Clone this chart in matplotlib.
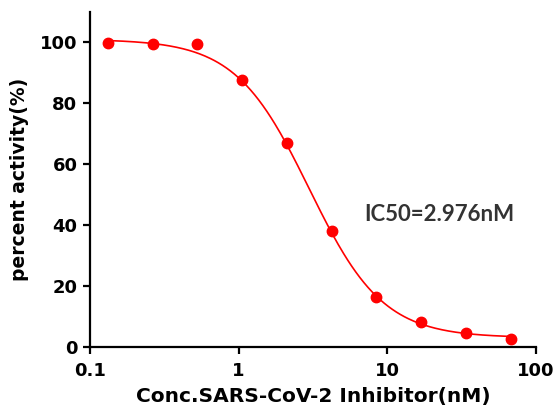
import numpy as np
import matplotlib
matplotlib.use('Agg')
import matplotlib.pyplot as plt
from matplotlib.ticker import FixedLocator, NullLocator

# measured points
conc_nM = [0.132, 0.264, 0.527, 1.05, 2.11, 4.22, 8.44, 16.9, 33.8, 67.5]
activity = [99.9, 99.6, 99.4, 87.5, 66.8, 37.9, 16.5, 8.3, 4.5, 2.5]

# fitted 4PL parameters
top = 101.0
bottom = 3.0
ic50 = 2.976
hill = 1.75

plt.rcParams['font.family'] = ['DejaVu Sans']
plt.rcParams['font.weight'] = 'bold'

fig = plt.figure(figsize=(5.55, 4.09), dpi=100)
ax = fig.add_axes([0.162, 0.152, 0.804, 0.819])

xs = np.logspace(np.log10(conc_nM[0]), np.log10(conc_nM[-1]), 300)
fit = bottom + (top - bottom) / (1 + (xs / ic50) ** hill)
ax.plot(xs, fit, color='#ff0000', lw=1.2)
ax.plot(conc_nM, activity, 'o', color='#ff0000', ms=7.5, mec='#ff0000')

ax.set_xscale('log')
ax.set_xlim(0.1, 100)
ax.set_ylim(0, 110)
ax.xaxis.set_major_locator(FixedLocator([0.1, 1, 10, 100]))
ax.xaxis.set_minor_locator(NullLocator())
ax.set_xticklabels(['0.1', '1', '10', '100'])
ax.set_yticks([0, 20, 40, 60, 80, 100])

for s in ['top', 'right']:
    ax.spines[s].set_visible(False)
for s in ['left', 'bottom']:
    ax.spines[s].set_linewidth(1.6)
ax.tick_params(width=1.6, length=5, labelsize=13)
ax.tick_params(axis='x', pad=6)
ax.tick_params(axis='y', pad=4)

ax.set_xlabel('Conc.SARS-CoV-2 Inhibitor(nM)', fontsize=14.5, fontweight='bold', labelpad=5)
ax.set_ylabel('percent activity(%)', fontsize=13.5, fontweight='bold', labelpad=8)

ax.text(0.614, 0.394, 'IC50=2.976nM', transform=ax.transAxes, fontsize=16,
        fontweight='bold', family=['Lato', 'DejaVu Sans'], color='#333333', va='center')

fig.savefig('out.png', dpi=100)
